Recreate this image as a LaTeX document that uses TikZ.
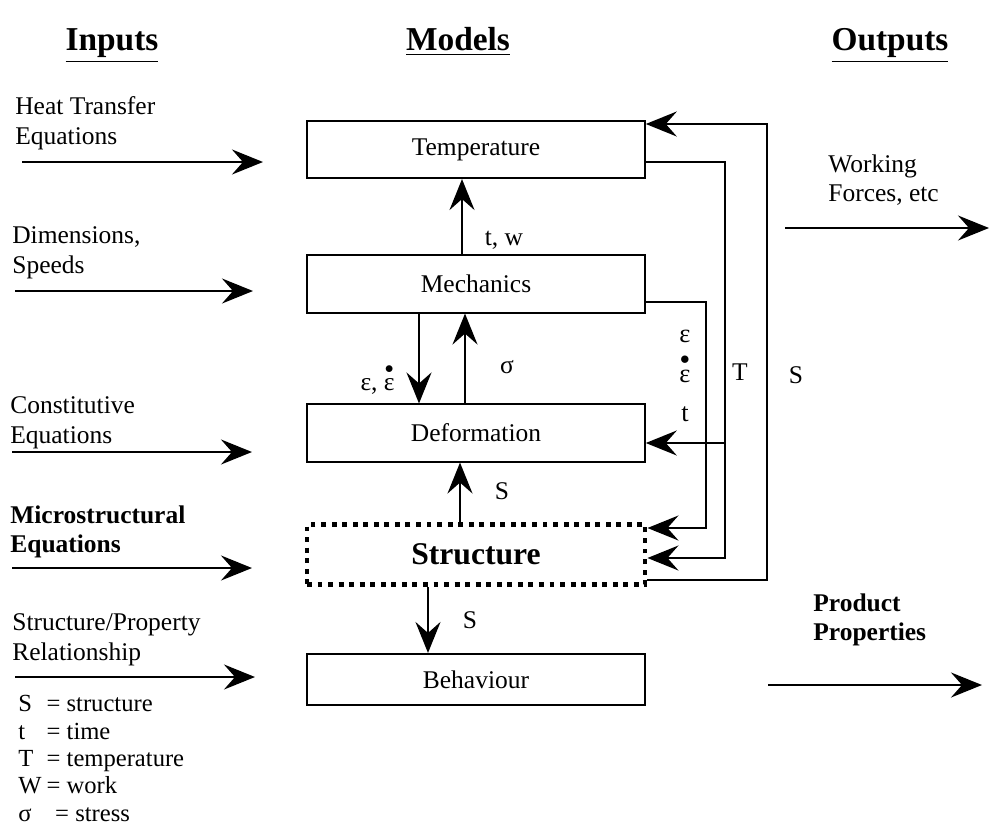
\documentclass[tikz,border=0pt]{standalone}
\usepackage{amsmath}
\usepackage{fontspec}
\setmainfont{Liberation Serif}
\usepackage{tikz}
\usetikzlibrary{arrows.meta, positioning}
\tikzset{
    modelnode/.style = {draw, rectangle, line width=0.9pt, minimum width=6.76cm, minimum height=1.15cm,
      inner sep = 0em, node distance=0em, font=\fontsize{14.5}{17}\selectfont},
    structnode/.style = {modelnode, line width=2.8pt, dash pattern=on 2.8pt off 3.2pt,
      minimum height=1.2cm, font=\fontsize{18}{21}\selectfont\bfseries},
    textnode/.style  = {draw=none, fill=none, rectangle, inner sep = 0em, align=left,
      anchor=north west, font=\fontsize{14.5}{17}\selectfont},
    boldtextnode/.style = {textnode, font=\fontsize{14.5}{17}\selectfont\bfseries},
    labelnode/.style = {draw=none, inner sep = 0em, font=\fontsize{14.5}{17}\selectfont},
    headnode/.style = {draw=none, inner sep = 0em, anchor=base, font=\fontsize{19}{22}\selectfont\bfseries},
    connect/.style = {black, line width=1.3pt, -{Stealth[length=0.62cm, width=0.5cm, inset=0.22cm]}},
    wire/.style = {black, line width=1.3pt}
}
\newcommand{\epsdot}{\ensuremath{\overset{\bullet}{\text{ε}}}}
\newcommand{\legrow}[3][1.15em]{\makebox[#1][l]{#2}= #3}

\begin{document}
\begin{tikzpicture}
    \useasboundingbox (0,0) rectangle (19.8,-16.68);

    \node [name=INP, headnode] at (2.24,-1.0) {\underline{Inputs}};
    \node [name=MOD, headnode] at (9.16,-1.0) {\underline{Models}};
    \node [name=OUT, headnode] at (17.8,-1.0) {\underline{Outputs}};

    % model chain
    \node [name=TEMP, modelnode] at (9.52,-2.99) {Temperature};
    \node [name=MECH, modelnode, below of = TEMP, yshift=-2.69cm] {Mechanics};
    \node [name=DEF, modelnode, below of = MECH, yshift=-2.98cm] {Deformation};
    \node [name=STRUC, structnode, below of = DEF, yshift=-2.43cm] {Structure};
    \node [name=BEH, modelnode, below of = STRUC, yshift=-2.50cm, minimum height=1.03cm] {Behaviour};

    \draw ([xshift=-0.28cm]MECH.north) edge[connect] ([xshift=-0.28cm]TEMP.south);
    \draw ([xshift=-1.14cm]MECH.south) edge[connect] ([xshift=-1.14cm]DEF.north);
    \draw ([xshift=-0.22cm]DEF.north) edge[connect] ([xshift=-0.22cm]MECH.south);
    \draw ([xshift=-0.32cm]STRUC.north) edge[connect] ([xshift=-0.32cm]DEF.south);
    \draw ([xshift=-0.96cm]STRUC.south) edge[connect] ([xshift=-0.96cm]BEH.north);

    \node [name=TW, labelnode] at (10.08,-4.80) {t, w};
    \node [name=EPS, labelnode, anchor=east] at (7.90,-7.58) {ε, \epsdot};
    \node [name=SIG, labelnode] at (10.14,-7.34) {σ};
    \node [name=SUP, labelnode] at (10.04,-9.82) {S};
    \node [name=SDN, labelnode] at (9.40,-12.40) {S};

    % feedback loops on the right
    \coordinate (EA) at (14.12,-6.04);
    \coordinate (EB) at (14.12,-10.56);
    \draw [connect] (MECH.east |- EA) -- (EA) -- (EB) -- (STRUC.east |- EB);

    \coordinate (TA) at (14.50,-3.24);
    \coordinate (TB) at (14.50,-8.86);
    \coordinate (TC) at (14.50,-11.16);
    \draw [connect] (TEMP.east |- TA) -- (TA) -- (TC) -- (STRUC.east |- TC);
    \draw (TB) edge[connect] (DEF.east |- TB);

    \coordinate (SA) at (15.34,-11.60);
    \coordinate (SB) at (15.34,-2.48);
    \draw [connect] (STRUC.east |- SA) -- (SA) -- (SB) -- (TEMP.east |- SB);

    \node [name=EPSR, labelnode, anchor=north, align=center, font=\fontsize{15}{22.5}\selectfont] at (13.70,-6.60) {ε\\\epsdot\\t};
    \node [name=TLAB, labelnode] at (14.80,-7.44) {T};
    \node [name=SLAB, labelnode] at (15.92,-7.50) {S};

    % inputs
    \node [name=HT, textnode] at (0.30,-1.92) {Heat Transfer\\Equations};
    \coordinate (HTa) at (0.44,-3.24);
    \coordinate (HTb) at (5.26,-3.24);
    \draw (HTa) edge[connect] (HTb);

    \node [name=DS, textnode] at (0.24,-4.52) {Dimensions,\\Speeds};
    \coordinate (DSa) at (0.30,-5.82);
    \coordinate (DSb) at (5.06,-5.82);
    \draw (DSa) edge[connect] (DSb);

    \node [name=CE, textnode] at (0.20,-7.92) {Constitutive\\Equations};
    \coordinate (CEa) at (0.24,-9.04);
    \coordinate (CEb) at (5.04,-9.04);
    \draw (CEa) edge[connect] (CEb);

    \node [name=ME, boldtextnode] at (0.20,-10.10) {Microstructural\\Equations};
    \coordinate (MEa) at (0.24,-11.36);
    \coordinate (MEb) at (5.04,-11.36);
    \draw (MEa) edge[connect] (MEb);

    \node [name=SP, textnode] at (0.24,-12.26) {Structure/Property\\Relationship};
    \coordinate (SPa) at (0.30,-13.54);
    \coordinate (SPb) at (5.10,-13.54);
    \draw (SPa) edge[connect] (SPb);

    \node [name=LEG, textnode, font=\fontsize{14}{15.6}\selectfont] at (0.36,-13.90)
      {\legrow{S}{structure}\\\legrow{t}{time}\\\legrow{T}{temperature}\\\legrow{W}{work}\\\legrow[1.5em]{σ}{stress}};

    % outputs
    \node [name=WF, textnode] at (16.56,-3.08) {Working\\Forces, etc};
    \coordinate (WFa) at (15.70,-4.56);
    \coordinate (WFb) at (19.78,-4.56);
    \draw (WFa) edge[connect] (WFb);

    \node [name=PP, boldtextnode] at (16.26,-11.86) {Product\\Properties};
    \coordinate (PPa) at (15.36,-13.70);
    \coordinate (PPb) at (19.64,-13.70);
    \draw (PPa) edge[connect] (PPb);
\end{tikzpicture}
\end{document}
